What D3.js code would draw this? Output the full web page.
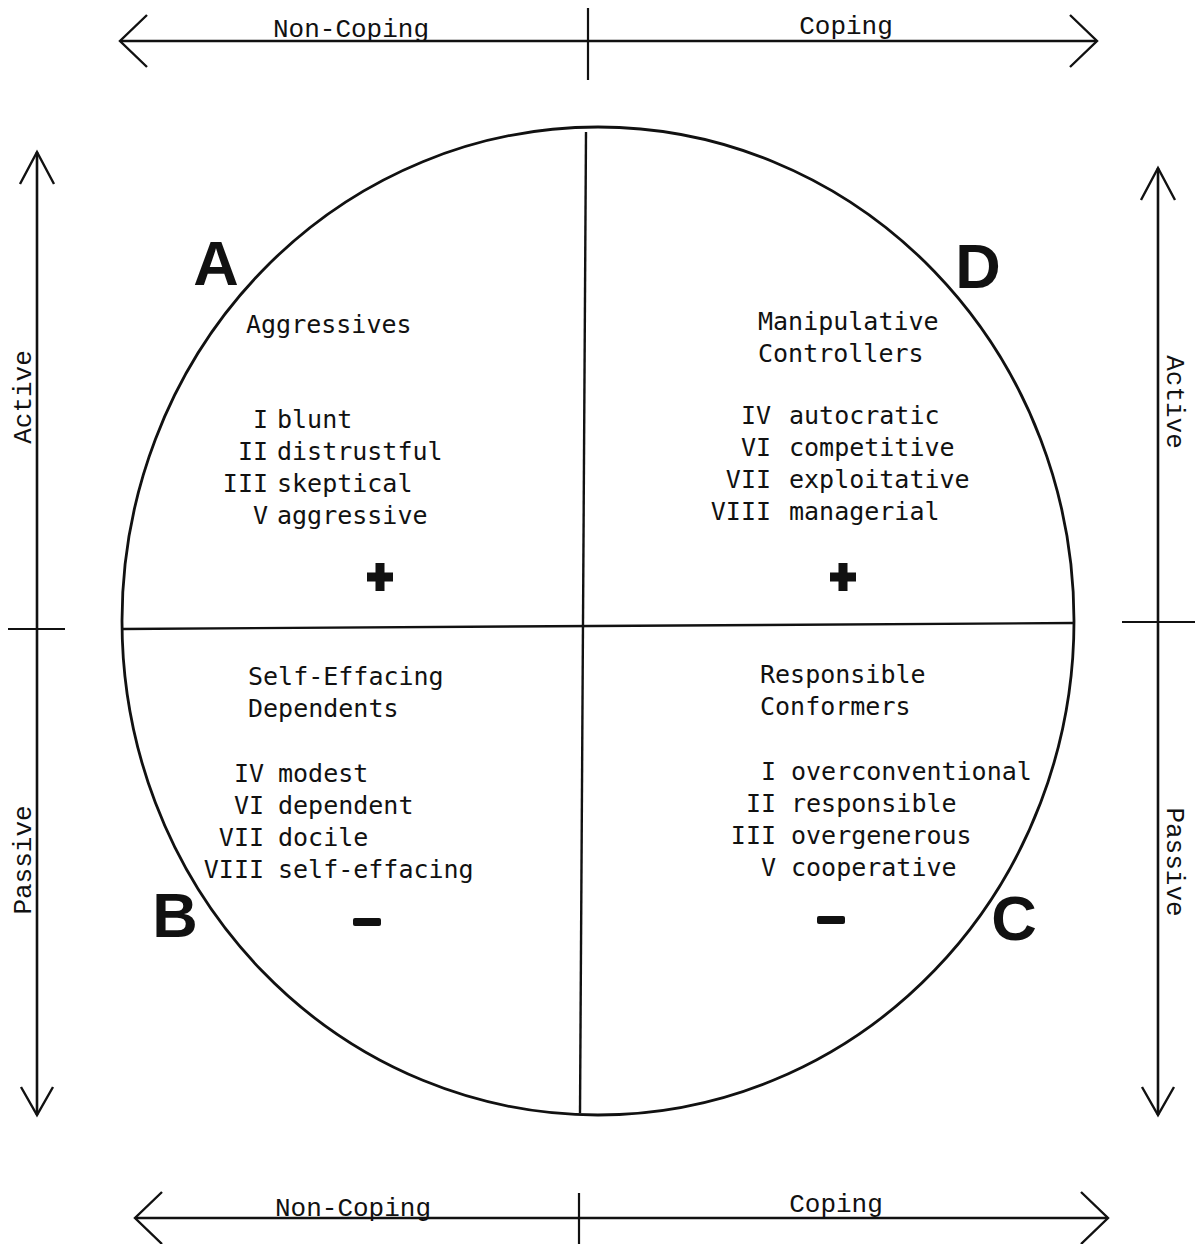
<!DOCTYPE html>
<html>
<head>
<meta charset="utf-8">
<script src="https://cdn.jsdelivr.net/npm/d3@7"></script>
<style>
  html, body { margin: 0; padding: 0; background: #fff; }
  svg { display: block; }
</style>
</head>
<body>
<svg id="chart" width="1202" height="1244"></svg>
<script>
// ---------------- DATA ----------------
const horizontalAxisLabels = ["Non-Coping", "Coping"];
const verticalAxisLabels = ["Active", "Passive"];
const quadrantLetters = ["A", "D", "B", "C"];
const quadrantSigns = ["+", "+", "−", "−"];
const quadrantTitles = [
  ["Aggressives"],
  ["Manipulative", "Controllers"],
  ["Self-Effacing", "Dependents"],
  ["Responsible", "Conformers"]
];
const quadrantNumerals = [
  ["I", "II", "III", "V"],
  ["IV", "VI", "VII", "VIII"],
  ["IV", "VI", "VII", "VIII"],
  ["I", "II", "III", "V"]
];
const quadrantTraits = [
  ["blunt", "distrustful", "skeptical", "aggressive"],
  ["autocratic", "competitive", "exploitative", "managerial"],
  ["modest", "dependent", "docile", "self-effacing"],
  ["overconventional", "responsible", "overgenerous", "cooperative"]
];

// ---------------- LAYOUT ----------------
const svg = d3.select("#chart");
const ink = "#111";

// Conceptual coordinate system: x -1 (non-coping) .. 1 (coping), y 1 (active) .. -1 (passive)
const x = d3.scaleLinear().domain([-1, 1]).range([122, 1074]);
const y = d3.scaleLinear().domain([1, -1]).range([127, 1115]);

// Circle (slightly elliptical, as in the scan)
svg.append("ellipse")
  .attr("cx", x(0)).attr("cy", y(0))
  .attr("rx", (x(1) - x(-1)) / 2).attr("ry", (y(-1) - y(1)) / 2)
  .attr("fill", "none").attr("stroke", ink).attr("stroke-width", 2.8);

// Dividers
svg.append("line")
  .attr("x1", x(-1)).attr("y1", 629).attr("x2", x(1)).attr("y2", 623)
  .attr("stroke", ink).attr("stroke-width", 2.4);
svg.append("line")
  .attr("x1", 586).attr("y1", 132).attr("x2", 580).attr("y2", 1113)
  .attr("stroke", ink).attr("stroke-width", 2.4);

// ---------- Arrows ----------
function arrowH(g, yv, x1, x2, tickX, tickY1, tickY2) {
  g.append("line").attr("x1", x1).attr("y1", yv).attr("x2", x2).attr("y2", yv)
    .attr("stroke", ink).attr("stroke-width", 2.4);
  const head = d3.line();
  g.append("path").attr("d", head([[x1 + 27, yv - 26], [x1, yv], [x1 + 27, yv + 26]]))
    .attr("fill", "none").attr("stroke", ink).attr("stroke-width", 2.4);
  g.append("path").attr("d", head([[x2 - 27, yv - 26], [x2, yv], [x2 - 27, yv + 26]]))
    .attr("fill", "none").attr("stroke", ink).attr("stroke-width", 2.4);
  g.append("line").attr("x1", tickX).attr("y1", tickY1).attr("x2", tickX).attr("y2", tickY2)
    .attr("stroke", ink).attr("stroke-width", 2.2);
}
function arrowV(g, xv, y1, y2, tickY, tickX1, tickX2) {
  g.append("line").attr("x1", xv).attr("y1", y1).attr("x2", xv).attr("y2", y2)
    .attr("stroke", ink).attr("stroke-width", 2.6);
  const head = d3.line();
  g.append("path").attr("d", head([[xv - 17, y1 + 32], [xv, y1], [xv + 17, y1 + 32]]))
    .attr("fill", "none").attr("stroke", ink).attr("stroke-width", 2.4);
  g.append("path").attr("d", head([[xv - 16, y2 - 28], [xv, y2], [xv + 16, y2 - 28]]))
    .attr("fill", "none").attr("stroke", ink).attr("stroke-width", 2.4);
  g.append("line").attr("x1", tickX1).attr("y1", tickY).attr("x2", tickX2).attr("y2", tickY)
    .attr("stroke", ink).attr("stroke-width", 2.2);
}
const axes = svg.append("g");
arrowH(axes, 41, 120, 1097, 588, 8, 80);
arrowH(axes, 1218, 135, 1108, 579, 1193, 1244);
arrowV(axes, 37, 152, 1115, 629, 8, 65);
arrowV(axes, 1158, 168, 1115, 622, 1122, 1195);

const axisFont = "'Liberation Mono', 'DejaVu Sans Mono', monospace";
const axisSize = 26;
// Top / bottom labels
const topLabelPos = [[351, 37], [846, 34]];
const bottomLabelPos = [[353, 1216], [836, 1212]];
horizontalAxisLabels.forEach((t, i) => {
  svg.append("text").attr("x", topLabelPos[i][0]).attr("y", topLabelPos[i][1])
    .attr("text-anchor", "middle").attr("font-family", axisFont).attr("font-size", axisSize)
    .attr("fill", ink).text(t);
  svg.append("text").attr("x", bottomLabelPos[i][0]).attr("y", bottomLabelPos[i][1])
    .attr("text-anchor", "middle").attr("font-family", axisFont).attr("font-size", axisSize)
    .attr("fill", ink).text(t);
});
// Side labels
const leftLabelPos = [[31, 397], [31, 860]];
const rightLabelPos = [[1167, 402], [1167, 862]];
verticalAxisLabels.forEach((t, i) => {
  svg.append("text")
    .attr("transform", `translate(${leftLabelPos[i][0]},${leftLabelPos[i][1]}) rotate(-90)`)
    .attr("text-anchor", "middle").attr("font-family", axisFont).attr("font-size", axisSize)
    .attr("fill", ink).text(t);
  svg.append("text")
    .attr("transform", `translate(${rightLabelPos[i][0]},${rightLabelPos[i][1]}) rotate(90)`)
    .attr("text-anchor", "middle").attr("font-family", axisFont).attr("font-size", axisSize)
    .attr("fill", ink).text(t);
});

// ---------- Quadrant letters ----------
const letterPos = [[216, 285], [978, 288], [175, 937], [1014, 940]];
quadrantLetters.forEach((t, i) => {
  svg.append("text").attr("x", letterPos[i][0]).attr("y", letterPos[i][1])
    .attr("text-anchor", "middle").attr("font-family", "'Liberation Sans', Arial, sans-serif")
    .attr("font-weight", "bold").attr("font-size", 63).attr("fill", ink).text(t);
});

// ---------- Signs ----------
const signPos = [[380, 577], [843, 577], [367, 922], [831, 920]];
quadrantSigns.forEach((s, i) => {
  const [cx, cy] = signPos[i];
  const g = svg.append("g").attr("transform", `translate(${cx},${cy})`);
  if (s === "+") {
    g.append("rect").attr("x", -13).attr("y", -4.5).attr("width", 26).attr("height", 9).attr("fill", ink);
    g.append("rect").attr("x", -4.5).attr("y", -14).attr("width", 9).attr("height", 28).attr("fill", ink);
  } else {
    g.append("rect").attr("x", -14).attr("y", -4).attr("width", 28).attr("height", 8).attr("rx", 2).attr("fill", ink);
  }
});

// ---------- Quadrant text ----------
const bodyFont = "'DejaVu Sans Mono', monospace";
const titlePos = [[246, 333], [758, 330], [248, 685], [760, 683]];
const listPos = [  // [numeral right edge, word start, first baseline]
  [268, 277, 428],
  [771, 789, 424],
  [264, 278, 782],
  [776, 791, 780]
];
const lineStep = 32;
quadrantTitles.forEach((lines, q) => {
  lines.forEach((t, j) => {
    svg.append("text").attr("x", titlePos[q][0]).attr("y", titlePos[q][1] + j * lineStep)
      .attr("font-family", bodyFont).attr("font-size", 25).attr("fill", ink).text(t);
  });
  quadrantNumerals[q].forEach((n, j) => {
    const by = listPos[q][2] + j * lineStep;
    svg.append("text").attr("x", listPos[q][0]).attr("y", by).attr("text-anchor", "end")
      .attr("font-family", bodyFont).attr("font-size", 25).attr("fill", ink).text(n);
    svg.append("text").attr("x", listPos[q][1]).attr("y", by)
      .attr("font-family", bodyFont).attr("font-size", 25).attr("fill", ink).text(quadrantTraits[q][j]);
  });
});
</script>
</body>
</html>
